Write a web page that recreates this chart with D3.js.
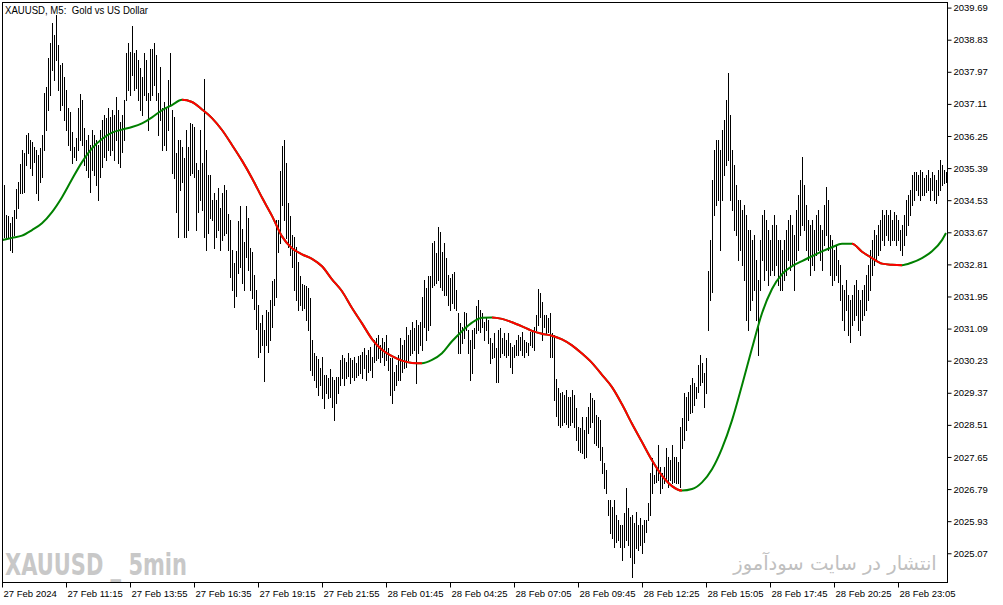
<!DOCTYPE html>
<html><head><meta charset="utf-8">
<script src="https://cdn.jsdelivr.net/npm/d3@7"></script>
<style>body{margin:0;background:#fff}svg{display:block}</style>
</head><body><svg id="c" width="1003" height="605"></svg>
<script>
// ---- DATA (XAUUSD M5 bars: high / low) ----
const highs = [
2034.80,2034.94,2034.13,2034.10,2033.91,2034.07,2034.26,2034.83,2035.02,2035.49,
2035.87,2035.79,2036.28,2036.33,2036.14,2036.09,2035.95,2035.87,2035.74,2035.92,
2036.28,2037.40,2037.56,2038.34,2038.74,2039.27,2038.96,2039.49,2038.69,2038.15,
2038.20,2037.82,2037.48,2036.99,2036.89,2036.36,2035.95,2036.19,2036.99,2037.37,
2037.21,2036.46,2036.14,2036.28,2036.00,2036.41,2036.28,2036.14,2036.00,2036.41,
2036.67,2036.81,2036.73,2036.99,2036.75,2036.94,2036.81,2037.29,2036.94,2036.62,
2036.81,2037.21,2038.47,2038.74,2038.50,2039.19,2038.47,2038.55,2038.28,2038.07,
2037.82,2038.47,2038.28,2037.40,2038.58,2038.58,2038.74,2038.42,2037.40,2038.09,
2036.99,2037.16,2037.02,2037.75,2038.47,2036.94,2036.75,2035.79,2036.14,2036.14,
2035.95,2035.65,2036.41,2035.95,2036.59,2036.56,2036.49,2035.52,2035.33,2036.41,
2035.52,2037.77,2035.87,2035.20,2035.20,2034.53,2034.72,2034.53,2034.85,2034.32,
2034.72,2034.94,2034.80,2034.15,2033.99,2033.19,2032.84,2033.16,2033.96,2034.37,
2033.76,2033.41,2034.37,2034.05,2033.24,2033.14,2032.53,2032.12,2031.72,2031.24,
2031.45,2031.05,2031.58,2031.53,2031.85,2032.36,2032.42,2033.99,2033.99,2035.30,
2035.98,2036.14,2035.52,2034.45,2034.10,2033.60,2033.54,2033.27,2032.87,2032.50,
2032.28,2032.26,2032.23,2032.18,2031.90,2030.78,2030.43,2030.35,2030.27,2030.03,
2030.33,2029.85,2029.85,2029.76,2030.00,2029.79,2029.71,2029.79,2029.79,2030.25,
2030.38,2030.30,2030.20,2030.43,2030.30,2030.25,2030.33,2030.17,2030.35,2030.38,
2030.46,2030.57,2030.38,2030.51,2030.59,2030.33,2030.78,2030.84,2030.92,2030.65,
2030.84,2030.73,2030.92,2030.57,2030.30,2030.30,2029.92,2030.11,2030.38,2030.84,
2030.65,2030.78,2031.13,2030.92,2031.05,2031.26,2031.10,2031.32,2031.18,2031.26,
2031.93,2032.39,2032.18,2032.50,2032.50,2033.38,2033.43,2033.11,2033.81,2033.67,
2033.14,2033.38,2032.98,2032.53,2032.44,2032.55,2032.60,2032.12,2031.50,2031.24,
2031.13,2031.53,2031.50,2031.05,2030.78,2031.05,2031.10,2031.69,2031.85,2031.58,
2031.50,2031.26,2031.40,2031.32,2030.84,2030.70,2030.97,2030.57,2031.05,2031.10,
2030.84,2030.97,2030.78,2030.97,2030.70,2030.59,2030.65,2030.78,2030.92,2030.86,
2031.00,2030.78,2030.73,2030.70,2031.00,2031.00,2031.13,2031.45,2032.15,2032.04,
2031.80,2031.45,2031.45,2031.37,2031.50,2030.97,2030.92,2029.74,2029.50,2029.36,
2029.39,2029.31,2029.44,2029.25,2029.25,2029.44,2029.31,2028.96,2028.45,2028.42,
2028.72,2028.37,2028.72,2028.99,2029.36,2029.23,2029.17,2028.77,2028.72,2028.64,
2027.91,2027.49,2027.30,2026.49,2026.49,2026.30,2026.49,2026.09,2025.96,2025.82,
2025.82,2026.14,2026.81,2026.28,2026.04,2026.09,2025.88,2026.17,2025.82,2026.01,
2025.82,2025.96,2025.96,2026.41,2027.22,2027.62,2027.17,2027.38,2027.97,2027.38,
2027.22,2027.38,2027.89,2027.65,2027.57,2027.97,2027.65,2027.65,2027.51,2028.45,
2028.69,2029.36,2029.25,2029.39,2029.58,2029.76,2029.63,2029.52,2030.11,2030.38,
2030.17,2029.90,2030.30,2032.63,2033.46,2035.07,2035.87,2036.14,2036.14,2035.87,
2036.41,2036.67,2037.21,2037.93,2036.81,2035.87,2035.47,2034.94,2034.53,2034.53,
2034.26,2034.40,2034.13,2033.73,2033.73,2033.46,2033.60,2032.92,2032.39,2033.46,
2034.13,2034.26,2033.99,2033.73,2033.46,2033.86,2034.13,2033.86,2033.46,2033.46,
2033.19,2033.46,2033.73,2033.99,2034.13,2033.86,2033.60,2034.26,2034.67,2035.07,
2035.68,2034.94,2034.40,2033.99,2033.86,2033.99,2033.73,2034.13,2034.26,2033.86,
2033.73,2034.40,2034.88,2034.53,2033.60,2033.46,2033.19,2033.32,2032.92,2032.79,
2032.26,2032.12,2032.39,2031.98,2031.85,2031.98,2032.26,2032.39,2032.12,2031.85,
2032.12,2032.26,2032.53,2032.79,2033.19,2033.46,2033.73,2033.60,2033.86,2033.99,
2034.26,2034.13,2034.26,2034.13,2034.26,2033.99,2034.21,2034.13,2033.99,2033.73,
2033.86,2034.13,2034.53,2034.67,2034.80,2035.20,2035.28,2035.28,2035.20,2035.33,
2035.28,2035.12,2035.20,2035.33,2035.12,2035.28,2035.20,2035.07,2035.33,2035.60,
2035.47,2035.33,2035.28];

const lows = [
2033.46,2033.54,2033.54,2033.52,2033.19,2033.14,2033.60,2034.05,2034.32,2034.72,
2034.72,2034.75,2035.47,2035.79,2035.38,2035.20,2035.55,2034.72,2034.53,2035.02,
2035.14,2035.87,2036.41,2036.94,2037.35,2038.01,2037.75,2038.28,2037.48,2036.94,
2037.08,2036.67,2036.41,2036.00,2035.87,2035.52,2035.68,2035.60,2035.87,2036.14,
2036.00,2035.47,2035.33,2035.14,2034.75,2035.33,2035.20,2034.94,2034.53,2035.14,
2035.41,2035.68,2035.60,2035.87,2035.74,2035.87,2035.60,2036.14,2035.52,2035.41,
2035.82,2036.14,2037.21,2037.48,2037.35,2037.88,2037.48,2037.53,2037.21,2036.94,
2036.81,2037.35,2037.21,2036.41,2037.21,2037.35,2037.61,2037.21,2036.28,2036.67,
2035.87,2036.00,2035.87,2036.41,2037.08,2035.25,2035.12,2034.21,2033.54,2034.80,
2035.02,2033.54,2033.54,2033.73,2035.20,2035.25,2035.14,2033.73,2034.21,2034.53,
2034.26,2033.54,2033.19,2033.65,2034.05,2033.99,2033.24,2033.54,2033.73,2033.19,
2033.46,2033.60,2033.65,2033.19,2032.47,2032.12,2031.66,2031.96,2032.58,2032.74,
2032.31,2032.12,2033.00,2032.66,2032.12,2031.90,2031.61,2031.08,2030.33,2030.46,
2030.65,2029.68,2030.65,2030.46,2030.78,2031.13,2031.72,2031.93,2033.14,2033.38,
2034.40,2033.99,2033.52,2033.27,2033.06,2032.74,2032.12,2031.85,2031.58,2031.72,
2031.58,2031.64,2031.32,2031.05,2029.98,2029.85,2029.71,2029.52,2029.31,2029.58,
2029.23,2028.96,2029.36,2029.23,2029.25,2028.99,2028.64,2029.09,2029.36,2029.58,
2029.76,2029.58,2029.76,2029.82,2029.63,2029.79,2029.71,2029.79,2029.85,2029.90,
2029.76,2030.03,2029.71,2029.92,2029.98,2029.79,2030.20,2030.25,2030.30,2030.20,
2030.33,2030.11,2030.25,2029.98,2029.31,2029.09,2029.44,2029.58,2029.71,2029.71,
2029.92,2030.03,2030.06,2030.25,2030.38,2030.43,2030.51,2029.63,2030.43,2030.65,
2030.51,2031.13,2030.78,2031.05,2031.18,2032.20,2032.26,2032.31,2032.39,2032.20,
2032.12,2031.98,2031.98,2031.72,2031.58,2031.77,2031.64,2031.58,2030.43,2030.43,
2030.70,2030.84,2031.05,2030.43,2029.71,2029.90,2030.57,2030.97,2031.05,2031.00,
2031.13,2030.78,2031.05,2030.70,2030.17,2030.30,2030.33,2029.66,2029.66,2030.33,
2030.43,2030.38,2030.33,2030.38,2030.06,2029.90,2030.33,2030.38,2030.38,2030.51,
2030.38,2030.33,2030.46,2030.38,2030.65,2030.59,2030.51,2031.05,2031.18,2031.40,
2030.78,2031.13,2030.97,2031.00,2030.33,2030.33,2029.17,2028.75,2028.50,2028.45,
2028.50,2028.59,2028.53,2028.45,2028.50,2028.59,2028.45,2028.10,2027.83,2027.78,
2027.75,2027.62,2027.65,2028.29,2028.45,2028.59,2028.02,2027.97,2027.91,2027.57,
2027.22,2026.81,2026.68,2026.09,2025.61,2025.47,2025.23,2025.37,2025.42,2025.23,
2024.89,2025.23,2025.42,2025.29,2024.97,2024.43,2024.81,2025.21,2025.15,2025.29,
2025.07,2025.37,2025.63,2025.96,2026.09,2026.68,2026.95,2026.97,2027.03,2026.68,
2026.81,2026.95,2027.03,2026.84,2027.03,2026.95,2026.97,2026.95,2026.95,2026.84,
2027.89,2028.10,2028.37,2028.64,2028.83,2028.85,2029.04,2029.23,2029.39,2029.58,
2029.66,2028.99,2029.36,2031.05,2031.85,2032.07,2034.13,2034.40,2034.53,2033.19,
2034.53,2035.20,2035.47,2035.60,2034.53,2034.26,2033.73,2033.60,2032.92,2033.19,
2032.79,2032.39,2031.32,2031.05,2031.58,2031.85,2032.12,2031.32,2030.38,2032.12,
2032.92,2032.39,2032.66,2032.26,2032.53,2032.66,2032.53,2032.79,2032.26,2032.12,
2032.12,2032.39,2032.53,2032.92,2032.66,2032.79,2032.12,2032.92,2033.19,2033.60,
2033.86,2033.73,2033.19,2032.92,2032.53,2032.79,2032.66,2033.06,2033.19,2032.92,
2032.66,2033.32,2033.60,2033.19,2032.53,2032.26,2032.39,2032.53,2032.34,2031.85,
2031.32,2031.05,2031.58,2030.92,2030.73,2031.18,2031.32,2031.45,2031.05,2030.92,
2031.32,2031.45,2031.58,2031.85,2032.12,2032.53,2032.79,2032.92,2033.06,2033.19,
2033.46,2033.32,2033.60,2033.46,2033.32,2033.46,2033.46,2033.32,2033.46,2033.19,
2033.06,2033.32,2033.60,2033.86,2034.13,2034.40,2034.53,2034.80,2034.67,2034.53,
2034.67,2034.67,2034.75,2034.80,2034.53,2034.80,2034.53,2034.45,2034.67,2034.80,
2034.94,2034.99,2035.02];

// moving average, sampled every 5 bars (last sample at the last bar)
const maValues = [
2033.46,2033.52,2033.58,2033.73,2033.91,2034.21,2034.61,2035.09,2035.55,2035.92,
2036.17,2036.34,2036.42,2036.49,2036.59,2036.75,2036.94,2037.08,2037.22,2037.16,
2036.96,2036.73,2036.41,2036.01,2035.59,2035.12,2034.60,2034.11,2033.56,2033.24,
2033.08,2032.96,2032.76,2032.41,2032.09,2031.64,2031.23,2030.81,2030.52,2030.35,
2030.23,2030.17,2030.16,2030.25,2030.43,2030.75,2031.02,2031.25,2031.38,2031.39,
2031.35,2031.26,2031.15,2031.03,2030.95,2030.90,2030.80,2030.64,2030.42,2030.17,
2029.85,2029.52,2029.06,2028.54,2028.05,2027.56,2027.15,2026.87,2026.75,2026.79,
2026.97,2027.32,2027.88,2028.63,2029.57,2030.56,2031.50,2032.15,2032.55,2032.76,
2032.90,2033.03,2033.16,2033.27,2033.36,2033.36,2033.15,2032.98,2032.83,2032.80,
2032.79,2032.86,2032.98,2033.16,2033.46,2033.65];
const maIndex = d3.range(0, 471, 5).concat([472]);

const priceTicks = [2039.69,2038.83,2037.97,2037.11,2036.25,2035.39,2034.53,2033.67,2032.81,
  2031.95,2031.09,2030.23,2029.37,2028.51,2027.65,2026.79,2025.93,2025.07];
const timeLabels = ["27 Feb 2024","27 Feb 11:15","27 Feb 13:55","27 Feb 16:35","27 Feb 19:15",
  "27 Feb 21:55","28 Feb 01:45","28 Feb 04:25","28 Feb 07:05","28 Feb 09:45","28 Feb 12:25",
  "28 Feb 15:05","28 Feb 17:45","28 Feb 20:25","28 Feb 23:05"];
const timeLabelIndex = d3.range(0, 449, 32);

// ---- DRAW ----
const W = 1003, H = 605;
const x = d3.scaleLinear().domain([0, 472]).range([2, 946]);
const y = d3.scaleLinear().domain([2024.30, 2039.84]).range([582, 2]);
const svg = d3.select('#c');
svg.append('rect').attr('width', W).attr('height', H).attr('fill', '#fff');

const defs = svg.append('defs');
defs.append('clipPath').attr('id', 'plot').append('rect')
  .attr('x', 3).attr('y', 3).attr('width', 944).attr('height', 579);

// watermarks
svg.append('text').attr('x', 5).attr('y', 575)
  .attr('font-family', '"Liberation Sans Narrow","DejaVu Sans Condensed",sans-serif')
  .attr('font-weight', 'bold').attr('font-size', 30).attr('fill', '#c8c8c8')
  .attr('textLength', 182).attr('lengthAdjust', 'spacingAndGlyphs')
  .style('white-space', 'pre').text('XAUUSD _ 5min');
svg.append('text').attr('x', 835).attr('y', 570).attr('text-anchor', 'middle')
  .attr('font-family', '"DejaVu Sans",sans-serif').attr('font-size', 19.5).attr('fill', '#c0c0c0')
  .text('انتشار در سایت سودآموز');

// bars
const gBars = svg.append('g').attr('clip-path', 'url(#plot)');
gBars.selectAll('line').data(highs).join('line')
  .attr('x1', (d, i) => Math.round(x(i)) + 0.5).attr('x2', (d, i) => Math.round(x(i)) + 0.5)
  .attr('y1', d => Math.round(y(d))).attr('y2', (d, i) => Math.round(y(lows[i])) + 1)
  .attr('stroke', '#000').attr('stroke-width', 1).attr('shape-rendering', 'crispEdges');

// moving average: green rising, red falling
const line = d3.line().x((d, k) => x(maIndex[k])).y(d => y(d)).curve(d3.curveMonotoneX);
const falling = [];
for (let k = 0; k < maValues.length - 1; k++) {
  if (maValues[k + 1] < maValues[k]) {
    const a = x(maIndex[k]), b = x(maIndex[k + 1]);
    const last = falling[falling.length - 1];
    if (last && Math.abs(last[1] - a) < 1e-6) last[1] = b; else falling.push([a, b]);
  }
}
const redClip = defs.append('clipPath').attr('id', 'red');
redClip.selectAll('rect').data(falling).join('rect')
  .attr('x', d => d[0]).attr('width', d => d[1] - d[0]).attr('y', 0).attr('height', H);
const gMA = svg.append('g').attr('clip-path', 'url(#plot)');
gMA.append('path').datum(maValues).attr('d', line).attr('fill', 'none')
  .attr('stroke', '#008000').attr('stroke-width', 2);
gMA.append('path').datum(maValues).attr('d', line).attr('fill', 'none')
  .attr('stroke', '#ff0000').attr('stroke-width', 2).attr('clip-path', 'url(#red)');

// frame
svg.append('rect').attr('x', 2.5).attr('y', 2.5).attr('width', 945).attr('height', 580)
  .attr('fill', 'none').attr('stroke', '#000').attr('shape-rendering', 'crispEdges');

// right price axis
const ay = svg.append('g').attr('transform', 'translate(947.5,0)')
  .call(d3.axisRight(y).tickValues(priceTicks).tickFormat(d3.format('.2f'))
    .tickSize(4).tickSizeOuter(0).tickPadding(2));
ay.select('.domain').remove();
ay.selectAll('text').attr('font-family', '"Liberation Sans",Arial,sans-serif')
  .attr('font-size', 9.5).attr('fill', '#000');
ay.selectAll('line').attr('stroke', '#000');

// bottom time axis
const ax = svg.append('g').attr('transform', 'translate(0,582.5)')
  .call(d3.axisBottom(x).tickValues(timeLabelIndex).tickFormat((d, i) => timeLabels[i])
    .tickSize(5).tickSizeOuter(0).tickPadding(3));
ax.select('.domain').remove();
ax.selectAll('text').attr('text-anchor', 'start').attr('x', 1)
  .attr('font-family', '"Liberation Sans",Arial,sans-serif').attr('font-size', 9.5).attr('fill', '#000');
ax.selectAll('line').attr('stroke', '#000');

// title
svg.append('text').attr('x', 5).attr('y', 14)
  .attr('font-family', '"Liberation Sans",Arial,sans-serif').attr('font-size', 11).attr('fill', '#000')
  .attr('textLength', 143).attr('lengthAdjust', 'spacingAndGlyphs')
  .style('white-space', 'pre').text('XAUUSD, M5:  Gold vs US Dollar');
</script></body></html>
